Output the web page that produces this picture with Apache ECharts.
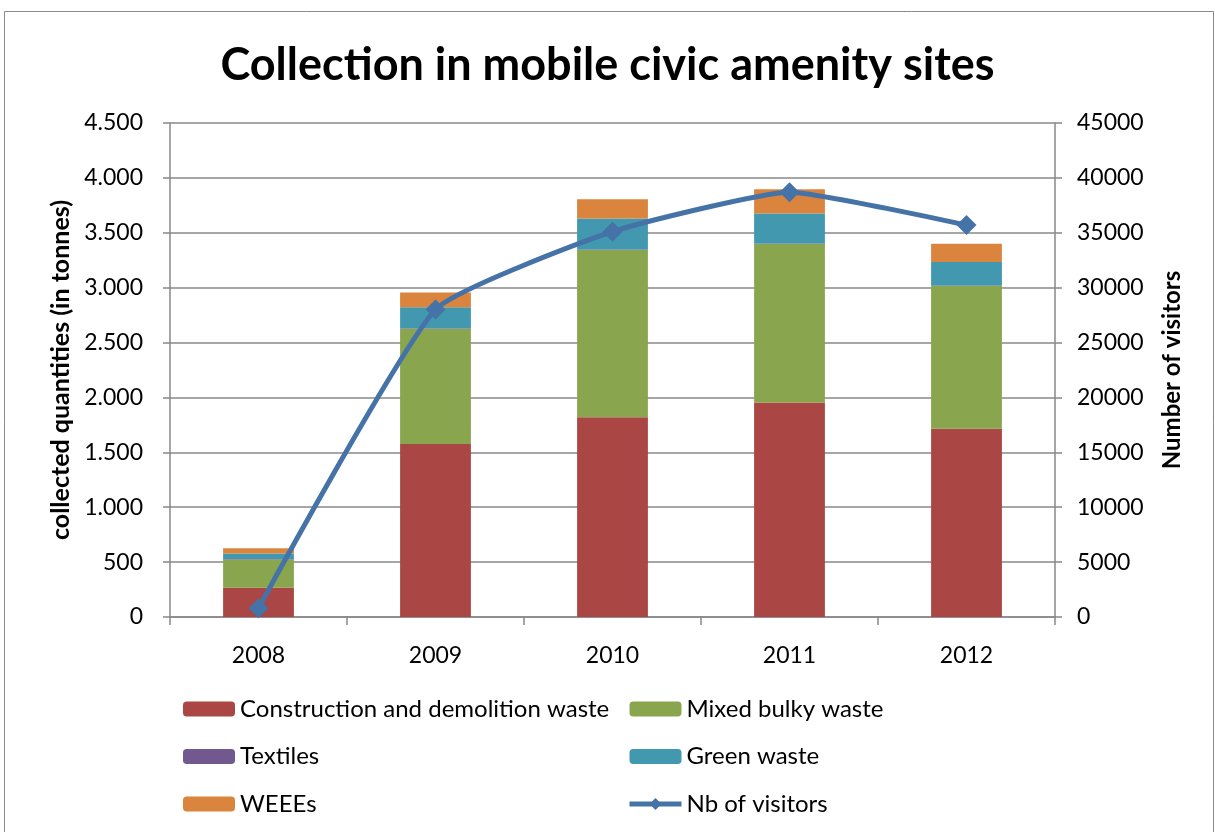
<!DOCTYPE html>
<html><head><meta charset="utf-8">
<script src="https://cdn.jsdelivr.net/npm/echarts@6/dist/echarts.min.js"></script>
<style>html,body{margin:0;padding:0;background:#fff}#c{width:1215px;height:832px}</style>
</head><body><div id="c"></div>
<script>
const years = ['2008','2009','2010','2011','2012'];
const construction = [266, 1575, 1820, 1955, 1715];
const mixedBulky = [258, 1050, 1522, 1442, 1300];
const textiles = [5, 5, 5, 5, 5];
const greenWaste = [50, 192, 283, 273, 213];
const weees = [47, 135, 176, 222, 167];
const visitors = [800, 28000, 35100, 38700, 35700];
const leftTicks = {min:0, max:4500, interval:500};
const rightTicks = {min:0, max:45000, interval:5000};

const FONT = 'Lato';
const chart = echarts.init(document.getElementById('c'));
const fmtDot = v => v >= 1000 ? Math.floor(v/1000) + '.' + String(v%1000).padStart(3,'0') : String(v);
const barCommon = {type:'bar', stack:'total', barWidth:'40%', yAxisIndex:0};
const legendText = {fontFamily:FONT, fontSize:24, color:'#000'};
chart.setOption({
  animation:false,
  textStyle:{fontFamily:FONT},
  graphic:[{type:'rect', shape:{x:4.5, y:11.5, width:1209, height:830}, style:{fill:'none', stroke:'#8a8a8a', lineWidth:1}, silent:true}],
  title:{text:'Collection in mobile civic amenity sites', left:'center', top:38,
    textStyle:{fontFamily:FONT, fontSize:45, fontWeight:'bold', color:'#000'}},
  grid:{left:170, right:160, top:123, bottom:215},
  legend:[
    {orient:'vertical', left:178, top:692, itemWidth:52, itemHeight:15, itemGap:23.5,
     textStyle:legendText,
     data:['Construction and demolition waste','Textiles','WEEEs']},
    {orient:'vertical', left:622, top:692, itemWidth:52, itemHeight:15, itemGap:23.5,
     textStyle:legendText,
     data:['Mixed bulky waste','Green waste',{name:'Nb of visitors', lineStyle:{width:5}}]}
  ],
  xAxis:{type:'category', data:years, boundaryGap:true,
    axisLine:{lineStyle:{color:'#888', width:1.5}},
    axisTick:{show:true, length:8, lineStyle:{color:'#888', width:1.5}},
    axisLabel:{color:'#000', fontSize:23, margin:27, fontFamily:FONT}},
  yAxis:[
    {type:'value', min:leftTicks.min, max:leftTicks.max, interval:leftTicks.interval, position:'left',
     name:'collected quantities (in tonnes)', nameLocation:'middle', nameRotate:90, nameGap:95,
     nameTextStyle:{fontFamily:FONT, fontSize:25, fontWeight:'bold', color:'#000'},
     axisLine:{show:true, lineStyle:{color:'#888', width:1.5}},
     axisTick:{show:true, length:7, lineStyle:{color:'#888', width:1.5}},
     axisLabel:{color:'#000', fontSize:23, margin:27, formatter:fmtDot, fontFamily:FONT},
     splitLine:{lineStyle:{color:'#888', width:1.5}}},
    {type:'value', min:rightTicks.min, max:rightTicks.max, interval:rightTicks.interval, position:'right',
     name:'Number of visitors', nameLocation:'middle', nameRotate:90, nameGap:105,
     nameTextStyle:{fontFamily:FONT, fontSize:24, fontWeight:'bold', color:'#000'},
     axisLine:{show:true, lineStyle:{color:'#888', width:1.5}},
     axisTick:{show:true, length:7, lineStyle:{color:'#888', width:1.5}},
     axisLabel:{color:'#000', fontSize:23, margin:22, formatter:v => String(v), fontFamily:FONT},
     splitLine:{show:false}}
  ],
  series:[
    Object.assign({name:'Construction and demolition waste', data:construction, itemStyle:{color:'#AA4643'}}, barCommon),
    Object.assign({name:'Mixed bulky waste', data:mixedBulky, itemStyle:{color:'#89A54E'}}, barCommon),
    Object.assign({name:'Textiles', data:textiles, itemStyle:{color:'#71588F'}}, barCommon),
    Object.assign({name:'Green waste', data:greenWaste, itemStyle:{color:'#4198AF'}}, barCommon),
    Object.assign({name:'WEEEs', data:weees, itemStyle:{color:'#DB843D'}}, barCommon),
    {name:'Nb of visitors', type:'line', yAxisIndex:1, data:visitors, smooth:0.15,
     symbol:'diamond', symbolSize:20,
     lineStyle:{color:'#4572A7', width:5}, itemStyle:{color:'#4572A7'}}
  ]
});
</script></body></html>
